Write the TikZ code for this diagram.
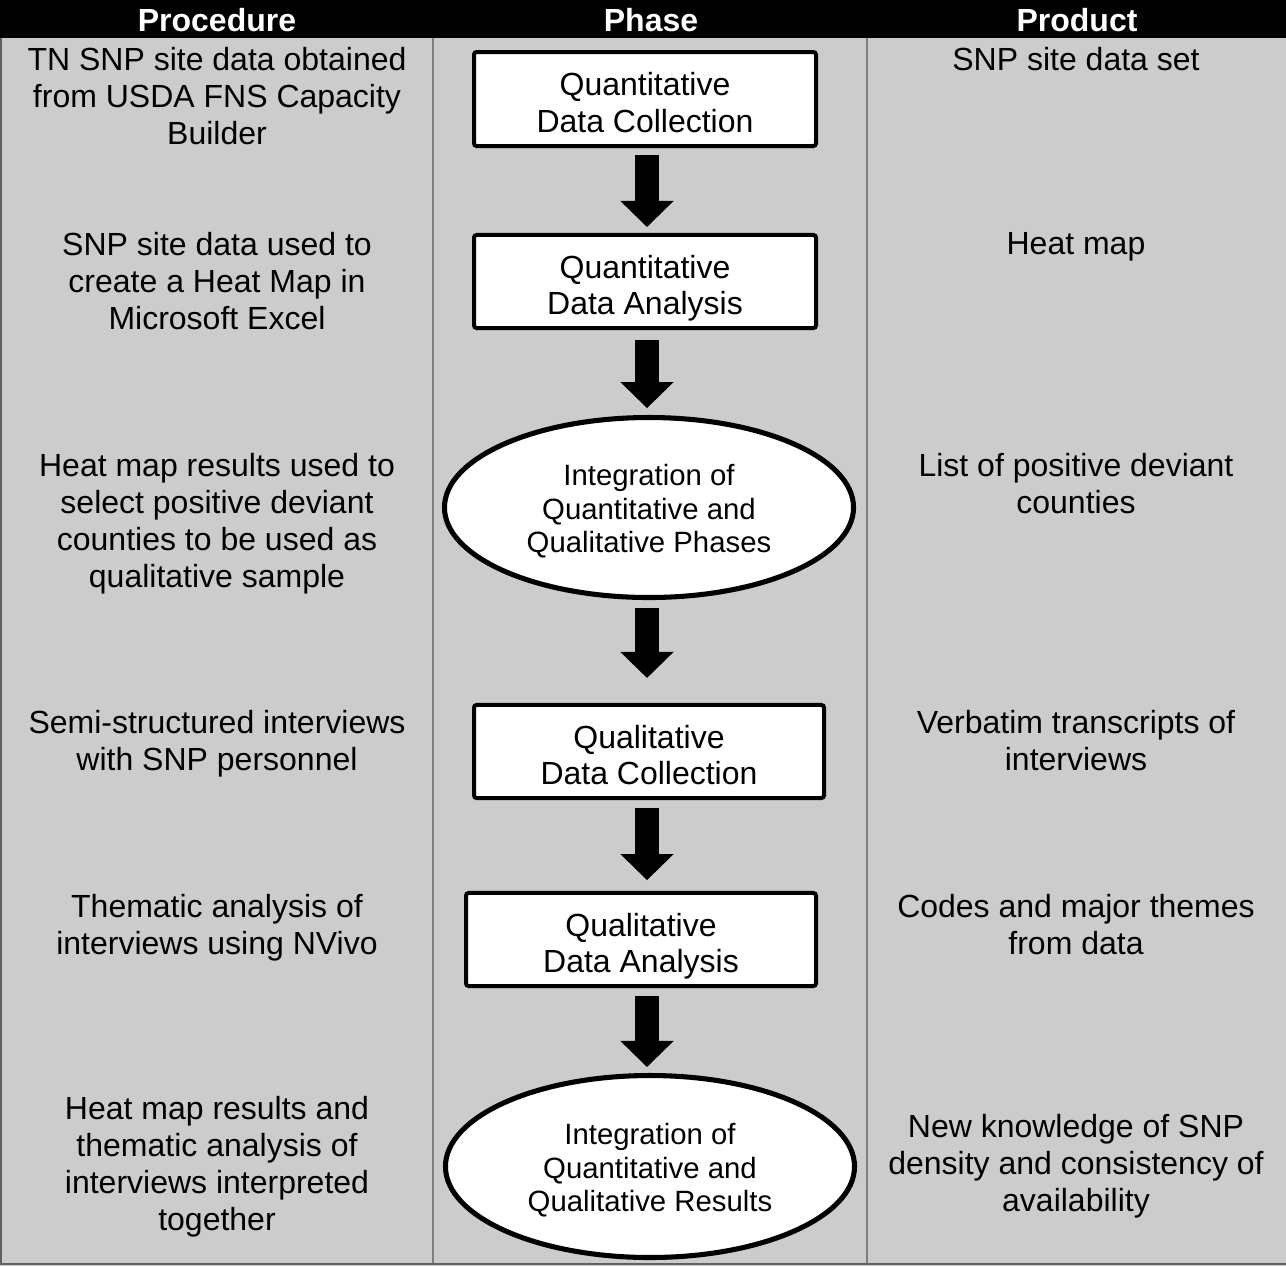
\documentclass[tikz,border=0pt]{standalone}
\usepackage{xcolor}
\usepackage{fontspec}
\setmainfont{Liberation Sans}
\usepackage{tikz}
\usetikzlibrary{shapes.geometric, arrows.meta, positioning, calc}
\definecolor{cellgray}{RGB}{204,204,204}
\definecolor{rulegray}{RGB}{128,128,128}
\definecolor{framegray}{RGB}{96,96,96}
\newcommand{\boxtop}{\rule{0pt}{13.7pt}}
\newcommand{\ovaltop}{\rule{0pt}{11.3pt}}
\newcommand{\lastdepth}{\rule[-2.5pt]{0pt}{0pt}}
\tikzset{
  phasebox/.style={rectangle, draw=black, fill=white, line width=1.5pt,
    inner sep=0pt, align=center, rounded corners=1pt,
    font=\fontsize{12}{13.8}\selectfont},
  mergebox/.style={ellipse, draw=black, fill=white, line width=1.9pt,
    inner sep=0pt, align=center, minimum width=153.4pt, minimum height=67.5pt,
    font=\fontsize{11}{12.65}\selectfont},
  celltext/.style={anchor=north, inner sep=0pt, align=center,
    font=\fontsize{12}{13.8}\selectfont},
  headtext/.style={anchor=north, inner sep=0pt, text=white,
    font=\fontsize{12}{13.8}\selectfont\bfseries},
  bigarrow/.style={line width=9pt, color=black,
    -{Triangle[width=20pt 0 0, length=9.75pt 0 0, line width=0pt]}}
}

\begin{document}
\begin{tikzpicture}[x=0.375pt, y=-0.375pt]
  \useasboundingbox (0,0) rectangle (1286,1266);
  \fill[cellgray] (0,38) rectangle (1286,1266);
  \fill[black] (0,0) rectangle (1286,38);
  \draw[rulegray, line width=0.75pt] (433,38) -- (433,1263);
  \draw[rulegray, line width=0.75pt] (867,38) -- (867,1263);
  \draw[framegray, line width=1.1pt] (1,38) -- (1,1264) -- (1286,1264);

  % column heads
  \node[headtext] (hproc) at (217,8) {Procedure};
  \node[headtext] (hphase) at (651,8) {Phase};
  \node[headtext] (hprod) at (1077,8) {Product};

  % procedure column
  \node[celltext] (p1) at (217,47) {TN SNP site data obtained\\from USDA FNS Capacity\\Builder};
  \node[celltext] (p2) at (217,232) {SNP site data used to\\create a Heat Map in\\Microsoft Excel};
  \node[celltext] (p3) at (217,453) {Heat map results used to\\select positive deviant\\counties to be used as\\qualitative sample};
  \node[celltext] (p4) at (217,710) {Semi-structured interviews\\with SNP personnel};
  \node[celltext] (p5) at (217,894) {Thematic analysis of\\interviews using NVivo};
  \node[celltext] (p6) at (217,1096) {Heat map results and\\thematic analysis of\\interviews interpreted\\together};

  % phase column
  \node[phasebox, minimum width=128.25pt, minimum height=35.25pt] (q1) at (645,99) {\boxtop Quantitative\\Data Collection\lastdepth};
  \node[phasebox, minimum width=128.25pt, minimum height=34.9pt] (q2) at (645,281.5) {\boxtop Quantitative\\Data Analysis\lastdepth};
  \node[mergebox] (e1) at (649,507.5) {\ovaltop Integration of\\Quantitative and\\Qualitative Phases\lastdepth};
  \node[phasebox, minimum width=131.25pt, minimum height=34.9pt] (q3) at (649,751.5) {\boxtop Qualitative\\Data Collection\lastdepth};
  \node[phasebox, minimum width=131.25pt, minimum height=34.9pt] (q4) at (641,939.5) {\boxtop Qualitative\\Data Analysis\lastdepth};
  \node[mergebox, minimum height=68.25pt] (e2) at (650,1166.5) {\ovaltop Integration of\\Quantitative and\\Qualitative Results\lastdepth};

  % product column
  \node[celltext] (r1) at (1076,47) {SNP site data set};
  \node[celltext] (r2) at (1076,232) {Heat map};
  \node[celltext] (r3) at (1076,453) {List of positive deviant\\counties};
  \node[celltext] (r4) at (1076,710) {Verbatim transcripts of\\interviews};
  \node[celltext] (r5) at (1076,894) {Codes and major themes\\from data};
  \node[celltext] (r6) at (1076,1114) {New knowledge of SNP\\density and consistency of\\availability};

  % flow arrows
  \coordinate (ax) at (647,0);
  \draw[bigarrow, shorten <=2.6pt, shorten >=2.25pt] (q1.south -| ax) -- (q2.north -| ax);
  \draw[bigarrow, shorten <=3.75pt, shorten >=2.6pt] (q2.south -| ax) -- (e1.north -| ax);
  \draw[bigarrow, shorten <=3pt, shorten >=9.4pt] (e1.south -| ax) -- (q3.north -| ax);
  \draw[bigarrow, shorten <=3pt, shorten >=4.1pt] (q3.south -| ax) -- (q4.north -| ax);
  \draw[bigarrow, shorten <=3pt, shorten >=2.25pt] (q4.south -| ax) -- (e2.north -| ax);
\end{tikzpicture}
\end{document}
